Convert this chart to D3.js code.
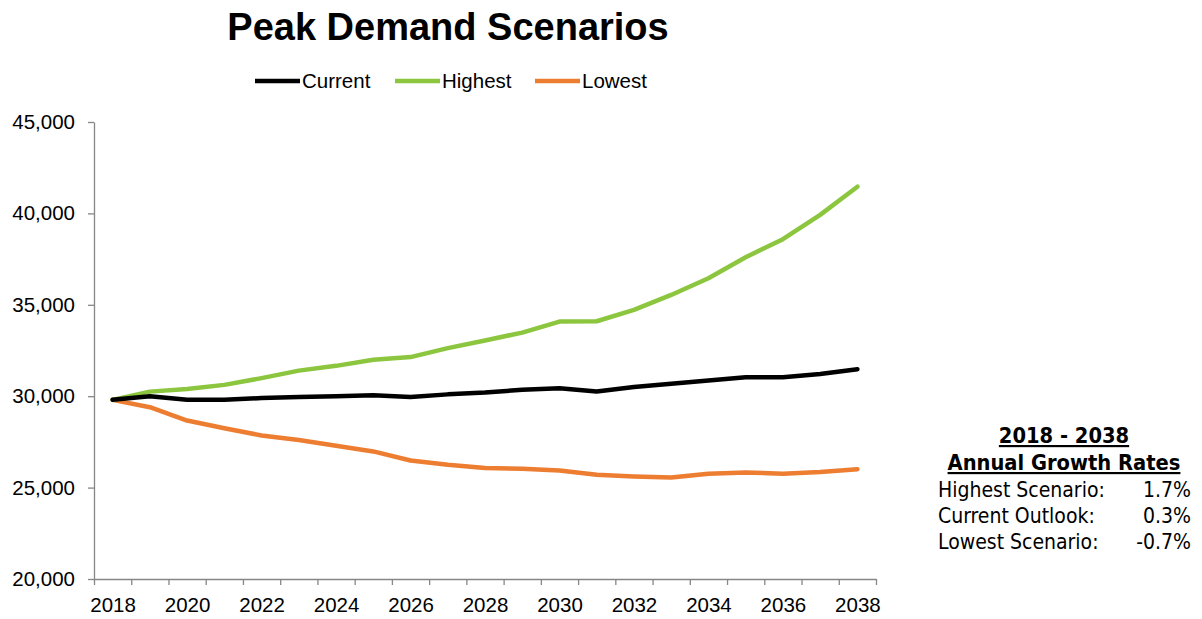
<!DOCTYPE html>
<html>
<head>
<meta charset="utf-8">
<script src="https://cdn.jsdelivr.net/npm/d3@7"></script>
<style>
  body { margin: 0; background: #fff; }
  svg { display: block; }
  .axis path, .axis line { stroke: #868686; stroke-width: 1.3; }
  .axis text { font-family: "Liberation Sans", Arial, sans-serif; font-size: 20.5px; fill: #000; }
  .legend text { font-family: "Liberation Sans", Arial, sans-serif; font-size: 20.5px; fill: #000; }
  .box text { font-family: "DejaVu Sans Condensed", "DejaVu Sans", sans-serif; fill: #000; }
</style>
</head>
<body>
<div id="svganchor"></div>
<script>
let width = 1202, height = 619;

let margin = ({top: 122, right: 326, bottom: 40, left: 94});

// data
let years = d3.range(2018, 2039);
let current = [29800, 30000, 29800, 29800, 29900, 29950, 30000, 30050, 29950, 30100,
               30200, 30350, 30440, 30260, 30500, 30680, 30860, 31040, 31040, 31210, 31480];
let highest = [29800, 30250, 30390, 30620, 30990, 31400, 31660, 31990, 32140, 32630,
               33050, 33480, 34080, 34100, 34720, 35540, 36455, 37600, 38590, 39920, 41460];
let lowest = [29800, 29400, 28670, 28250, 27850, 27600, 27290, 26980, 26480, 26250,
              26070, 26030, 25940, 25700, 25610, 25550, 25760, 25830, 25760, 25850, 26010];
let yTicks = [20000, 25000, 30000, 35000, 40000, 45000];
let xLabels = d3.range(2018, 2039, 2);

let seriesNames = ["Current", "Highest", "Lowest"];
let seriesColors = ["#000000", "#8cc63f", "#ed7d31"];
let seriesValues = [current, highest, lowest];

let growthTitle = ["2018 - 2038", "Annual Growth Rates"];
let growthLabels = ["Highest Scenario:", "Current Outlook:", "Lowest Scenario:"];
let growthRates = ["1.7%", "0.3%", "-0.7%"];

let xScale = d3.scaleLinear()
    .domain([2017.5, 2038.5])
    .range([margin.left, width - margin.right]);

let yScale = d3.scaleLinear()
    .domain([20000, 45000])
    .range([height - margin.bottom, margin.top]);

let svg = d3.select("#svganchor")
    .append("svg")
    .attr("width", width)
    .attr("height", height);

svg.append("text")
    .attr("x", 448)
    .attr("y", 40)
    .attr("text-anchor", "middle")
    .style("font-family", "'Liberation Sans', Arial, sans-serif")
    .style("font-weight", "bold")
    .style("font-size", "38px")
    .text("Peak Demand Scenarios");

// axes
let yAxis = d3.axisLeft(yScale)
    .tickValues(yTicks)
    .tickFormat(d3.format(","))
    .tickSizeInner(6)
    .tickSizeOuter(0)
    .tickPadding(13);

svg.append("g")
    .attr("class", "y axis")
    .attr("transform", "translate(" + margin.left + ",0)")
    .call(yAxis);

let xTickAxis = d3.axisBottom(xScale)
    .tickValues(d3.range(2017.5, 2039, 1))
    .tickFormat("")
    .tickSizeInner(6)
    .tickSizeOuter(0);

svg.append("g")
    .attr("class", "x axis")
    .attr("transform", "translate(0," + (height - margin.bottom) + ")")
    .call(xTickAxis);

let xLabelAxis = d3.axisBottom(xScale)
    .tickValues(xLabels)
    .tickFormat(d3.format("d"))
    .tickSize(0)
    .tickPadding(18);

svg.append("g")
    .attr("class", "x axis labels")
    .attr("transform", "translate(0," + (height - margin.bottom) + ")")
    .call(xLabelAxis)
    .call(g => g.select(".domain").remove());

// lines
let line = d3.line()
    .x(function(d, i) { return xScale(years[i]); })
    .y(function(d) { return yScale(d); });

[2, 1, 0].forEach(function(k) {
    svg.append("path")
        .datum(seriesValues[k])
        .attr("fill", "none")
        .attr("stroke", seriesColors[k])
        .attr("stroke-width", 4.5)
        .attr("stroke-linejoin", "round")
        .attr("stroke-linecap", "round")
        .attr("d", line);
});

// legend
let legendX = [255, 395, 535];
let legend = svg.append("g").attr("class", "legend");
seriesNames.forEach(function(name, i) {
    legend.append("line")
        .attr("x1", legendX[i])
        .attr("x2", legendX[i] + 45)
        .attr("y1", 81)
        .attr("y2", 81)
        .attr("stroke", seriesColors[i])
        .attr("stroke-width", 4.5);
    legend.append("text")
        .attr("x", legendX[i] + 47)
        .attr("y", 88)
        .text(name);
});

// growth rate box
let box = svg.append("g").attr("class", "box");
let boxCenter = 1064;

growthTitle.forEach(function(t, i) {
    box.append("text")
        .attr("x", boxCenter)
        .attr("y", 443 + i * 27)
        .attr("text-anchor", "middle")
        .style("font-weight", "bold")
        .style("font-size", "21.7px")
        .style("text-decoration", "underline")
        .text(t);
});

growthLabels.forEach(function(t, i) {
    box.append("text")
        .attr("x", 938)
        .attr("y", 497 + i * 26)
        .style("font-size", "21px")
        .text(t);
    box.append("text")
        .attr("x", 1191)
        .attr("y", 497 + i * 26)
        .attr("text-anchor", "end")
        .style("font-size", "21px")
        .text(growthRates[i]);
});
</script>
</body>
</html>
